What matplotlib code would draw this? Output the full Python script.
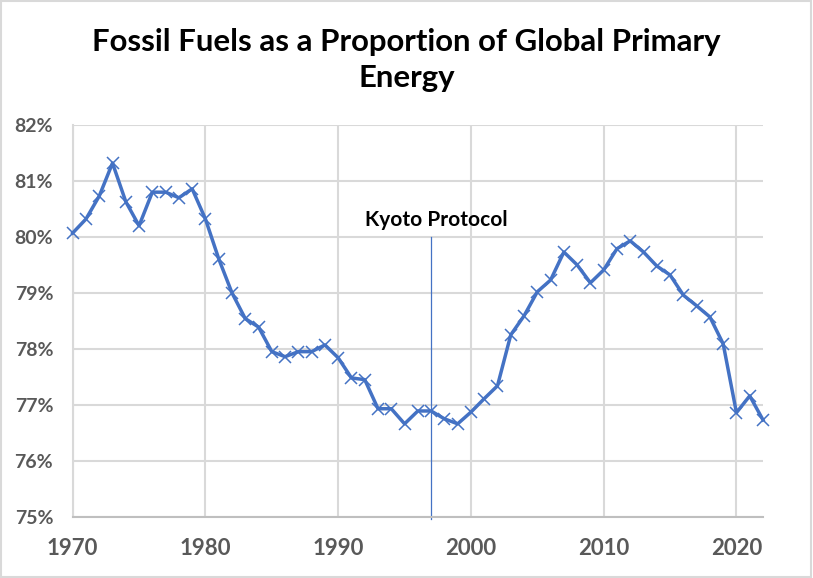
import matplotlib.pyplot as plt
from matplotlib.patches import Rectangle
from matplotlib.ticker import FuncFormatter

# Fossil share of global primary energy (%)
years = list(range(1970, 2023))
share = [80.07, 80.32, 80.73, 81.32, 80.63, 80.20, 80.80, 80.80, 80.70, 80.86,
         80.32, 79.61, 79.00, 78.54, 78.39, 77.95, 77.86, 77.95, 77.95, 78.07,
         77.84, 77.48, 77.45, 76.93, 76.93, 76.66, 76.89, 76.89, 76.75, 76.66,
         76.87, 77.11, 77.34, 78.25, 78.59, 79.02, 79.23, 79.73, 79.50, 79.18,
         79.41, 79.79, 79.93, 79.73, 79.48, 79.32, 78.96, 78.77, 78.57, 78.09,
         76.86, 77.16, 76.73]
kyoto_year = 1997
kyoto_label = 'Kyoto Protocol'
title = 'Fossil Fuels as a Proportion of Global Primary\nEnergy'

plt.rcParams['font.family'] = ['Lato', 'DejaVu Sans']

fig = plt.figure(figsize=(8.13, 5.78), dpi=100)
ax = fig.add_axes([0.0894, 0.106, 0.8491, 0.6777])

ax.plot(years, share, color='#4472C4', lw=2.5, marker='x', ms=8, mew=1.1,
        zorder=3, clip_on=False)

ax.axvline(kyoto_year, ymin=-0.005, ymax=5 / 7, color='#4472C4', lw=0.9,
           clip_on=False, zorder=2)
ax.text(kyoto_year + 0.4, 80.2, kyoto_label, ha='center', va='baseline',
        fontsize=15, fontweight='bold', color='#000000')

ax.set_xlim(1970, 2022)
ax.set_ylim(75, 82)
ax.set_xticks(range(1970, 2021, 10))
ax.set_yticks(range(75, 83))
ax.yaxis.set_major_formatter(FuncFormatter(lambda v, p: f'{v:.0f}%'))
ax.grid(True, color='#D9D9D9', lw=1.5)
ax.set_axisbelow(True)

for s in ['top', 'right']:
    ax.spines[s].set_visible(False)
ax.spines['left'].set_color('#D9D9D9')
ax.spines['left'].set_linewidth(1.5)
ax.spines['bottom'].set_color('#BFBFBF')
ax.spines['bottom'].set_linewidth(1.5)

ax.tick_params(axis='both', length=0, colors='#595959')
ax.tick_params(axis='x', labelsize=16, pad=15.5)
ax.tick_params(axis='y', labelsize=14, pad=14)
for lab in ax.get_xticklabels() + ax.get_yticklabels():
    lab.set_fontweight('bold')

fig.text(0.5, 0.952, title, ha='center', va='top', fontsize=22.4,
         fontweight='bold', color='#000000', linespacing=1.38)

fig.patches.append(Rectangle((0.001, 0.002), 0.997, 0.996, transform=fig.transFigure,
                             fill=False, edgecolor='#D9D9D9', lw=1.5))

fig.savefig('out.png', dpi=100)
